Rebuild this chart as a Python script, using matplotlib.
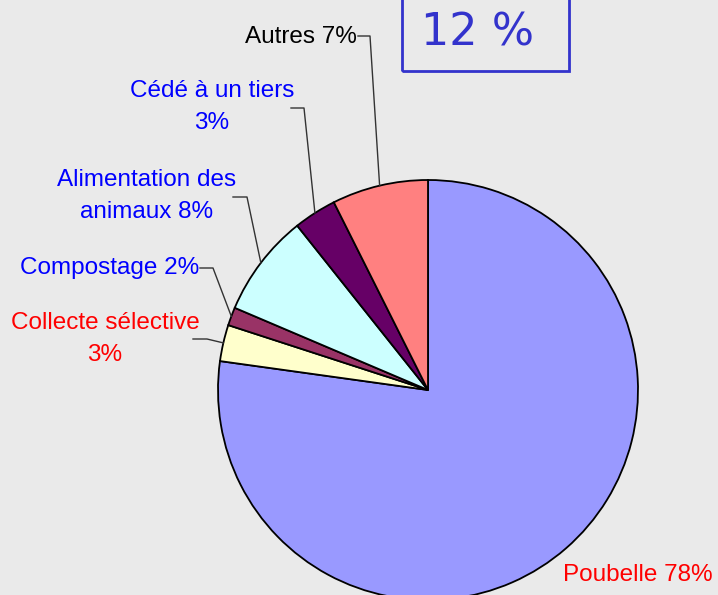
import numpy as np
import matplotlib.pyplot as plt

# slice order: clockwise from the top
categories = ["Poubelle", "Collecte sélective", "Compostage",
              "Alimentation des animaux", "Cédé à un tiers", "Autres"]
shares = [77.2, 2.8, 1.4, 7.9, 3.3, 7.4]
labels = ["Poubelle 78%", "Collecte sélective\n3%", "Compostage 2%",
          "Alimentation des\nanimaux 8%", "Cédé à un tiers\n3%", "Autres 7%"]
colors = ["#9999FF", "#FFFFCC", "#993366", "#CCFFFF", "#660066", "#FF8080"]
label_colors = ["#FF0000", "#FF0000", "#0000FF", "#0000FF", "#0000FF", "#000000"]
highlight = "12 %"

W, H = 718, 595
CX, CY, R = 428, 390, 210  # pie centre and radius in pixels


def px(x, y):
    # pixel position (y down) -> data units of the pie axes
    return (x - CX) / R, (CY - y) / R


plt.rcParams['font.family'] = ['Liberation Sans', 'DejaVu Sans']

fig = plt.figure(figsize=(W / 100, H / 100), dpi=100, facecolor="#EAEAEA")
ax = fig.add_axes([0, 0, 1, 1])
ax.set_facecolor("#EAEAEA")

wedges, _ = ax.pie(shares, colors=colors, startangle=90, counterclock=False,
                   radius=1, center=(0, 0), frame=True,
                   wedgeprops=dict(edgecolor="black", linewidth=1.3))
ax.set_aspect("equal")
ax.set_xlim(-CX / R, (W - CX) / R)
ax.set_ylim(-(H - CY) / R, CY / R)
ax.axis("off")

# label placement: (x, y, ha) in pixels, plus leader stub (start, elbow)
place = [
    (713, 575, "right", None),
    (105, 339, "center", ((193, 339), (207, 339))),
    (199, 268, "right", ((200, 268), (213, 268))),
    (147, 196, "center", ((233, 197), (247, 197))),
    (212, 107, "center", ((291, 108), (304, 108))),
    (357, 37, "right", ((358, 36), (370, 36))),
]

for w, lab, col, (x, y, ha, lead) in zip(wedges, labels, label_colors, place):
    tx, ty = px(x, y)
    ax.text(tx, ty, lab, color=col, fontsize=17.5, ha=ha, va="center",
            multialignment="center", linespacing=1.6)
    if lead is not None:
        mid = np.deg2rad((w.theta1 + w.theta2) / 2)
        p0 = px(*lead[0])
        p1 = px(*lead[1])
        ax.plot([p0[0], p1[0], np.cos(mid)], [p0[1], p1[1], np.sin(mid)],
                color="#333333", lw=1)

# highlighted total box at the top
bx0, by0 = px(402, 71)
bx1, by1 = px(569, -5)
ax.add_patch(plt.Rectangle((bx0, by0), bx1 - bx0, by1 - by0, fill=False,
                           edgecolor="#3333CC", lw=2, clip_on=False))
hx, hy = px(478, 33)
ax.text(hx, hy, highlight, color="#3333CC", fontsize=32, ha="center",
        va="center", family="DejaVu Sans")

fig.savefig("out.png", dpi=100, facecolor=fig.get_facecolor())
